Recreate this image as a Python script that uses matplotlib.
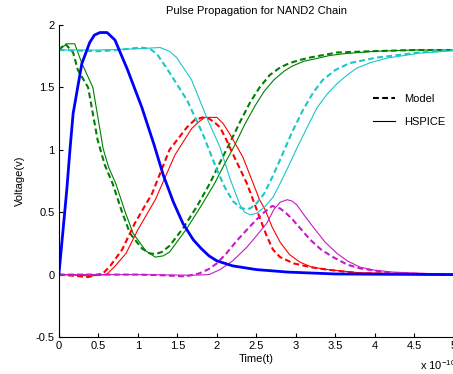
import matplotlib
matplotlib.use('Agg')
import matplotlib.pyplot as plt
from matplotlib.lines import Line2D

plt.rcParams['font.family'] = ['Liberation Sans', 'DejaVu Sans']
plt.rcParams['mathtext.default'] = 'regular'

# Ingang (blauw)
t_in = [0, 0.1, 0.14, 0.18, 0.29, 0.39, 0.45, 0.52, 0.61, 0.71, 0.87, 1.05, 1.2, 1.32, 1.45, 1.57, 1.7, 1.8, 1.9, 2.0, 2.2, 2.5, 2.9, 3.5, 4.0, 5.0]
v_in = [0, 0.68, 1.0, 1.29, 1.69, 1.86, 1.92, 1.94, 1.94, 1.88, 1.64, 1.34, 1.05, 0.8, 0.58, 0.41, 0.28, 0.21, 0.15, 0.11, 0.07, 0.04, 0.02, 0.005, 0.003, 0]

# Trap 1 (groen)
t_g_mod = [0, 0.08, 0.18, 0.24, 0.37, 0.49, 0.58, 0.68, 0.8, 0.9, 1.05, 1.15, 1.22, 1.3, 1.4, 1.57, 1.75, 1.91, 2.04, 2.16, 2.29, 2.42, 2.54, 2.67, 2.8, 2.92, 3.05, 3.18, 3.35, 3.52, 3.94, 4.5, 5.0]
v_g_mod = [1.8, 1.85, 1.78, 1.64, 1.5, 1.08, 0.88, 0.73, 0.5, 0.33, 0.21, 0.17, 0.165, 0.18, 0.23, 0.37, 0.55, 0.73, 0.9, 1.05, 1.22, 1.38, 1.5, 1.6, 1.66, 1.695, 1.72, 1.74, 1.76, 1.78, 1.79, 1.8, 1.8]
t_g_sp = [0, 0.1, 0.2, 0.29, 0.43, 0.56, 0.63, 0.72, 0.84, 0.94, 1.1, 1.22, 1.32, 1.4, 1.62, 1.8, 1.97, 2.1, 2.22, 2.35, 2.48, 2.6, 2.72, 2.85, 2.95, 3.1, 3.25, 3.42, 3.6, 4.0, 4.5, 5.0]
v_g_sp = [1.8, 1.85, 1.85, 1.695, 1.5, 1.01, 0.86, 0.73, 0.5, 0.33, 0.19, 0.14, 0.15, 0.18, 0.37, 0.55, 0.73, 0.89, 1.03, 1.2, 1.35, 1.47, 1.56, 1.63, 1.67, 1.71, 1.73, 1.755, 1.77, 1.79, 1.8, 1.8]

# Trap 2 (rood)
t_r_mod = [0, 0.2, 0.37, 0.56, 0.65, 0.72, 0.8, 0.96, 1.18, 1.4, 1.62, 1.72, 1.82, 1.9, 1.97, 2.04, 2.12, 2.2, 2.38, 2.54, 2.63, 2.71, 2.8, 2.97, 3.18, 3.39, 3.81, 4.5, 5.0]
v_r_mod = [0, -0.01, -0.02, 0.01, 0.07, 0.13, 0.2, 0.41, 0.65, 1.0, 1.18, 1.24, 1.26, 1.25, 1.22, 1.18, 1.08, 0.97, 0.73, 0.46, 0.31, 0.2, 0.14, 0.09, 0.06, 0.04, 0.01, 0.005, 0]
t_r_sp = [0, 0.4, 0.6, 0.7, 0.85, 1.0, 1.22, 1.47, 1.68, 1.78, 1.85, 2.0, 2.08, 2.16, 2.33, 2.54, 2.61, 2.7, 2.8, 2.92, 3.05, 3.2, 3.4, 3.8, 4.23, 5.0]
v_r_sp = [0, -0.01, 0.0, 0.06, 0.17, 0.36, 0.6, 0.96, 1.17, 1.23, 1.26, 1.26, 1.21, 1.13, 0.94, 0.6, 0.52, 0.38, 0.26, 0.16, 0.1, 0.06, 0.04, 0.015, 0.01, 0]

# Trap 3 (cyaan)
t_c_mod = [0, 0.5, 0.75, 1.03, 1.15, 1.24, 1.4, 1.62, 1.82, 2.0, 2.1, 2.2, 2.3, 2.36, 2.42, 2.5, 2.6, 2.7, 2.8, 2.95, 3.09, 3.22, 3.34, 3.5, 3.68, 4.03, 4.57, 5.0]
v_c_mod = [1.8, 1.79, 1.8, 1.82, 1.81, 1.77, 1.62, 1.4, 1.13, 0.84, 0.7, 0.59, 0.535, 0.525, 0.53, 0.57, 0.65, 0.78, 0.92, 1.14, 1.32, 1.46, 1.56, 1.64, 1.695, 1.74, 1.78, 1.8]
t_c_sp = [0, 0.5, 1.0, 1.28, 1.4, 1.49, 1.68, 1.87, 2.04, 2.16, 2.29, 2.35, 2.42, 2.5, 2.6, 2.71, 2.8, 2.9, 3.01, 3.15, 3.27, 3.4, 3.52, 3.65, 3.77, 3.95, 4.15, 4.57, 5.0]
v_c_sp = [1.8, 1.8, 1.81, 1.82, 1.79, 1.74, 1.56, 1.26, 1.02, 0.78, 0.56, 0.5, 0.48, 0.49, 0.54, 0.62, 0.73, 0.86, 1.01, 1.19, 1.34, 1.45, 1.53, 1.6, 1.655, 1.7, 1.735, 1.775, 1.795]

# Trap 4 (magenta)
t_m_mod = [0, 0.5, 1.0, 1.3, 1.6, 1.78, 1.9, 2.0, 2.12, 2.25, 2.38, 2.5, 2.6, 2.7, 2.8, 2.88, 2.96, 3.07, 3.18, 3.32, 3.47, 3.65, 3.81, 4.23, 5.0]
v_m_mod = [0, 0, 0, -0.005, -0.015, 0.01, 0.045, 0.09, 0.17, 0.27, 0.36, 0.44, 0.5, 0.55, 0.53, 0.49, 0.44, 0.36, 0.28, 0.2, 0.14, 0.08, 0.05, 0.01, 0]
t_m_sp = [0, 1.0, 1.7, 1.9, 2.04, 2.2, 2.38, 2.5, 2.63, 2.72, 2.8, 2.89, 2.95, 3.01, 3.1, 3.22, 3.37, 3.52, 3.65, 3.81, 4.0, 4.23, 5.0]
v_m_sp = [0, 0, -0.005, 0.0, 0.04, 0.11, 0.22, 0.31, 0.41, 0.52, 0.58, 0.6, 0.59, 0.56, 0.48, 0.38, 0.26, 0.17, 0.11, 0.06, 0.035, 0.02, 0]

fig = plt.figure(figsize=(4.53, 3.74), dpi=100)
ax = fig.add_axes([0.130, 0.099, 0.872, 0.834])

groen = (0, 0.5, 0)
cyaan = (0.1, 0.78, 0.78)
magenta = (0.78, 0.1, 0.78)
dash = dict(ls=(0, (2.8, 1.6)), lw=1.5)
dun = dict(ls='-', lw=0.8)

ax.plot(t_g_mod, v_g_mod, color=groen, **dash)
ax.plot(t_g_sp, v_g_sp, color=groen, **dun)
ax.plot(t_r_mod, v_r_mod, color='red', **dash)
ax.plot(t_r_sp, v_r_sp, color='red', **dun)
ax.plot(t_c_mod, v_c_mod, color=cyaan, **dash)
ax.plot(t_c_sp, v_c_sp, color=cyaan, **dun)
ax.plot(t_m_mod, v_m_mod, color=magenta, **dash)
ax.plot(t_m_sp, v_m_sp, color=magenta, **dun)
ax.plot(t_in, v_in, color='blue', lw=2.0)

ax.set_xlim(0, 5)
ax.set_ylim(-0.5, 2)
ax.set_xticks([0, 0.5, 1, 1.5, 2, 2.5, 3, 3.5, 4, 4.5, 5])
ax.set_xticklabels(['0', '0.5', '1', '1.5', '2', '2.5', '3', '3.5', '4', '4.5', '5'])
ax.set_yticks([-0.5, 0, 0.5, 1, 1.5, 2])
ax.set_yticklabels(['-0.5', '0', '0.5', '1', '1.5', '2'])
ax.tick_params(direction='in', length=3, labelsize=8, width=0.8, pad=3)
ax.spines['top'].set_visible(False)
ax.spines['right'].set_visible(False)
ax.spines['left'].set_linewidth(0.8)
ax.spines['bottom'].set_linewidth(0.8)

ax.set_title('Pulse Propagation for NAND2 Chain', fontsize=8, pad=8)
ax.set_xlabel('Time(t)', fontsize=8, labelpad=2)
ax.set_ylabel('Voltage(v)', fontsize=8, labelpad=8)
fig.text(0.927, 0.005, r'x 10$^{-10}$', fontsize=8, ha='left', va='bottom')

handles = [Line2D([], [], color='black', **dash), Line2D([], [], color='black', **dun)]
ax.legend(handles, ['Model', 'HSPICE'], loc='upper left', bbox_to_anchor=(0.77, 0.81),
          frameon=False, fontsize=8, handlelength=2.0, handletextpad=0.8, labelspacing=1.1)

fig.savefig('out.png', dpi=100)
